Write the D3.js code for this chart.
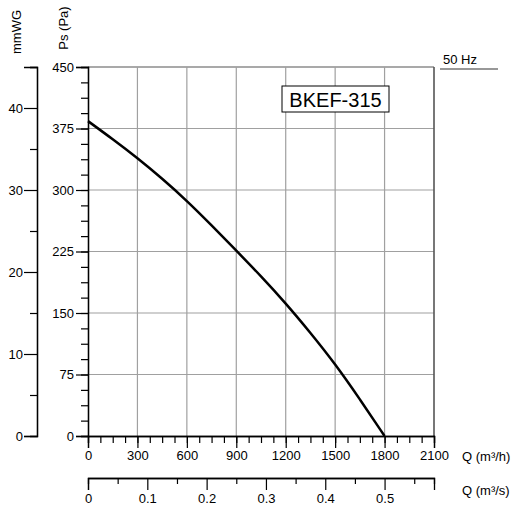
<!DOCTYPE html>
<html>
<head>
<meta charset="utf-8">
<script src="https://cdn.jsdelivr.net/npm/d3@7"></script>
<style>
body { margin: 0; background: #fff; }
text { font-family: "Liberation Sans", Arial, sans-serif; fill: #000; }
</style>
</head>
<body>
<svg id="graph"></svg>
<script>
var screenWidth = 513;
var screenHeight = 506;

// fan curve, Q in m3/h, Ps in Pa
var flowValues = [0, 150, 300, 450, 600, 750, 900, 1050, 1200, 1350, 1500, 1650, 1800];
var pressureValues = [384, 362, 339, 314, 287, 257, 226, 195, 162, 126, 88, 45, 0];

var qTicks = [0, 300, 600, 900, 1200, 1500, 1800, 2100];
var qsTicks = [0, 0.1, 0.2, 0.3, 0.4, 0.5];
var psTicks = [0, 75, 150, 225, 300, 375, 450];
var mmTicks = [0, 10, 20, 30, 40];

var modelName = 'BKEF-315';
var freqLabel = '50 Hz';

var svg = d3.select('#graph')
	.attr('width', screenWidth)
	.attr('height', screenHeight);

var x = d3.scaleLinear().domain([0, 2100]).range([88, 434]);
var xs = d3.scaleLinear().domain([0, 2100 / 3600]).range([88, 434]);
var y = d3.scaleLinear().domain([0, 450]).range([436, 67]);
var ymm = d3.scaleLinear().domain([0, 45]).range([436, 67]);

// grid
var grid = svg.append('g');
grid.selectAll('line.h')
	.data(psTicks.slice(1))
	.enter()
	.append('line')
	.attr('x1', x(0)).attr('x2', x(2100))
	.attr('y1', function(d) { return y(d); })
	.attr('y2', function(d) { return y(d); })
	.attr('stroke', function(d) { return d == 450 ? '#555' : '#a0a0a0'; })
	.attr('stroke-width', 1.2);
grid.selectAll('line.v')
	.data(qTicks.slice(1))
	.enter()
	.append('line')
	.attr('y1', y(0)).attr('y2', y(450))
	.attr('x1', function(d) { return x(d); })
	.attr('x2', function(d) { return x(d); })
	.attr('stroke', function(d) { return d == 2100 ? '#555' : '#a0a0a0'; })
	.attr('stroke-width', function(d) { return d == 2100 ? 1.6 : 1.2; });

// Ps axis
var psAxis = svg.append('g')
	.attr('transform', 'translate(' + x(0) + ',0)')
	.call(d3.axisLeft(y).tickValues(d3.range(0, 451, 18.75)).tickSize(7).tickFormat(''));
psAxis.append('g')
	.call(d3.axisLeft(y).tickValues(psTicks).tickSize(12).tickPadding(2));

// mmWG axis
var mmAxis = svg.append('g')
	.attr('transform', 'translate(37,0)')
	.call(d3.axisLeft(ymm).tickValues(d3.range(5, 46, 10)).tickSize(7).tickFormat(''));
mmAxis.append('g')
	.call(d3.axisLeft(ymm).tickValues(mmTicks).tickSize(13).tickPadding(1));

// Q m3/h axis
var qAxis = svg.append('g')
	.attr('transform', 'translate(0,' + y(0) + ')')
	.call(d3.axisBottom(x).tickValues(d3.range(0, 2101, 75)).tickSize(7).tickFormat(''));
qAxis.append('g')
	.call(d3.axisBottom(x).tickValues(qTicks).tickSize(12).tickPadding(3).tickFormat(d3.format('d')));

// Q m3/s axis
var qsAxis = svg.append('g')
	.attr('transform', 'translate(0,478)')
	.call(d3.axisBottom(xs).tickValues([0.05, 0.15, 0.25, 0.35, 0.45, 0.55]).tickSize(6).tickFormat(''));
qsAxis.append('g')
	.call(d3.axisBottom(xs).tickValues(qsTicks).tickSize(12).tickPadding(4).tickFormat(function(d) { return d; }));

svg.selectAll('.domain').attr('stroke', '#000').attr('stroke-width', 1.3);
svg.selectAll('.tick line').attr('stroke', '#000').attr('stroke-width', 1.2);
svg.selectAll('.tick text').style('font-size', '13px').attr('fill', '#000');

// curve
var line = d3.line()
	.x(function(d) { return x(d[0]); })
	.y(function(d) { return y(d[1]); })
	.curve(d3.curveBasis);
svg.append('path')
	.datum(flowValues.map(function(q, i) { return [q, pressureValues[i]]; }))
	.attr('d', line)
	.attr('fill', 'none')
	.attr('stroke', '#000')
	.attr('stroke-width', 2.5);

// model box
svg.append('rect')
	.attr('x', 282).attr('y', 86)
	.attr('width', 107).attr('height', 26)
	.attr('fill', '#fff').attr('stroke', '#000');
svg.append('text')
	.attr('x', 335.5).attr('y', 107)
	.attr('text-anchor', 'middle')
	.style('font-size', '20px')
	.text(modelName);

// labels
svg.append('text')
	.attr('transform', 'translate(21,32) rotate(-90)')
	.attr('text-anchor', 'middle')
	.style('font-size', '13px')
	.text('mmWG');
svg.append('text')
	.attr('transform', 'translate(68,28) rotate(-90)')
	.attr('text-anchor', 'middle')
	.style('font-size', '13px')
	.text('Ps (Pa)');
svg.append('text')
	.attr('x', 462).attr('y', 461)
	.style('font-size', '13px')
	.text('Q (m³/h)');
svg.append('text')
	.attr('x', 462).attr('y', 495)
	.style('font-size', '13px')
	.text('Q (m³/s)');

svg.append('text')
	.attr('x', 443).attr('y', 64)
	.style('font-size', '13px')
	.text(freqLabel);
svg.append('line')
	.attr('x1', 440).attr('x2', 498)
	.attr('y1', 69).attr('y2', 69)
	.attr('stroke', '#333').attr('stroke-width', 1.2);
</script>
</body>
</html>
